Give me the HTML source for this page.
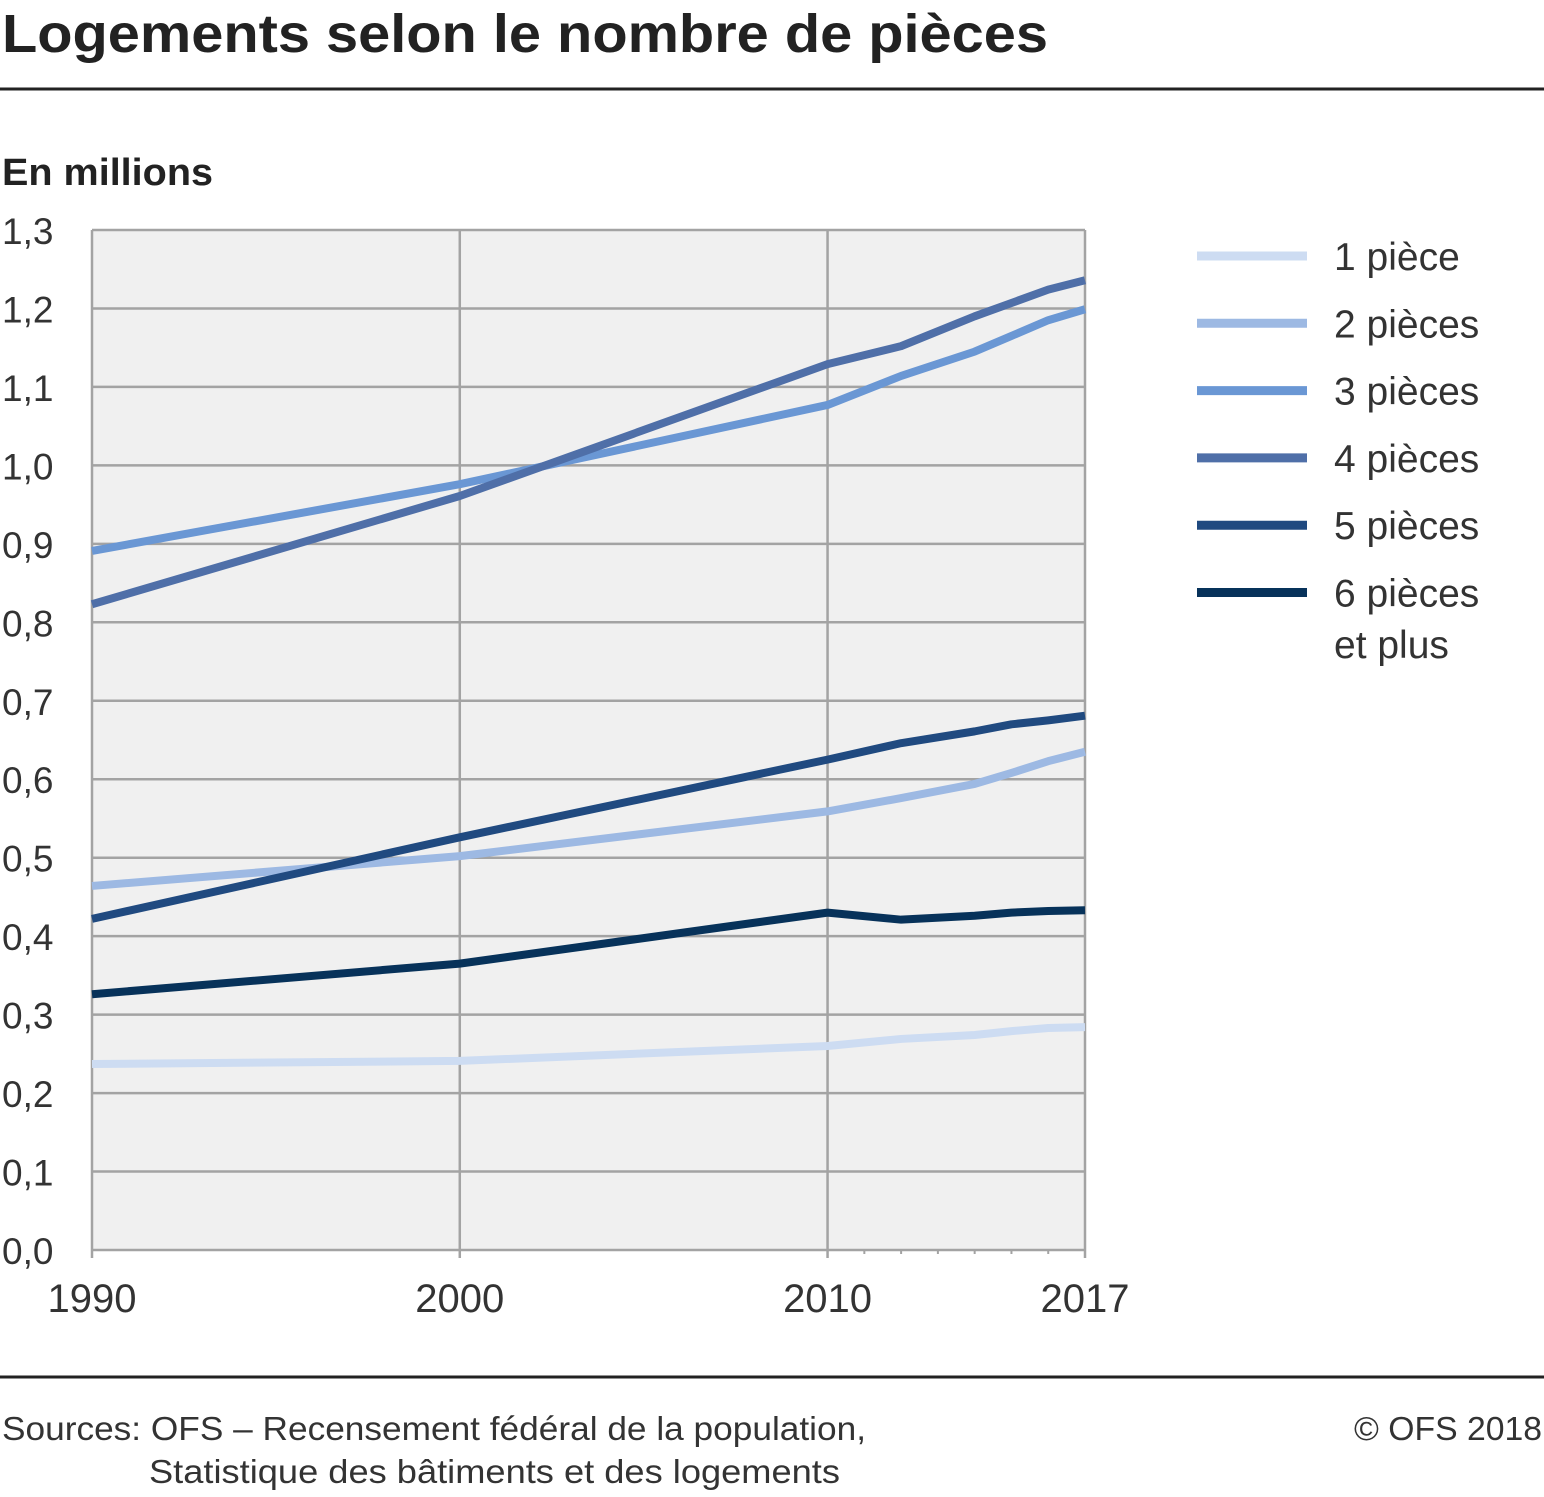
<!DOCTYPE html>
<html><head><meta charset="utf-8">
<style>
body{margin:0;background:#fff;font-family:"Liberation Sans",sans-serif;}
svg text{font-family:"Liberation Sans",sans-serif;}
</style></head>
<body>
<svg id="chart" width="1544" height="1492" xmlns="http://www.w3.org/2000/svg">
<text x="2" y="52" font-size="54" font-weight="bold" fill="#222" textLength="1046" lengthAdjust="spacingAndGlyphs">Logements selon le nombre de pièces</text>
<line x1="0" y1="89" x2="1544" y2="89" stroke="#222" stroke-width="3"/>
<text x="2" y="185" font-size="38" font-weight="bold" fill="#222" textLength="211" lengthAdjust="spacingAndGlyphs">En millions</text>
<rect x="92" y="230" width="993" height="1020" fill="#f0f0f0"/>
<g id="grid"></g>
<g id="lines"></g>
<g id="legend"></g>
<line x1="0" y1="1377" x2="1544" y2="1377" stroke="#222" stroke-width="3"/>
<text x="2" y="1440" font-size="33" fill="#333" textLength="864" lengthAdjust="spacingAndGlyphs">Sources: OFS – Recensement fédéral de la population,</text>
<text x="149" y="1483" font-size="33" fill="#333" textLength="691" lengthAdjust="spacingAndGlyphs">Statistique des bâtiments et des logements</text>
<text x="1542" y="1440" font-size="33" fill="#333" text-anchor="end" textLength="188" lengthAdjust="spacingAndGlyphs">© OFS 2018</text>
</svg>
<script>
const years=[1990,2000,2010,2012,2014,2015,2016,2017];
const s1=[0.237,0.241,0.260,0.269,0.274,0.279,0.283,0.284];
const s2=[0.464,0.502,0.559,0.576,0.594,0.608,0.623,0.635];
const s3=[0.891,0.976,1.077,1.114,1.145,1.165,1.185,1.199];
const s4=[0.823,0.961,1.129,1.152,1.190,1.207,1.224,1.236];
const s5=[0.422,0.526,0.625,0.646,0.661,0.670,0.675,0.681];
const s6=[0.326,0.365,0.430,0.421,0.426,0.430,0.432,0.433];
const seriesNames=["1 pièce","2 pièces","3 pièces","4 pièces","5 pièces","6 pièces"];
const yTicks=[0,0.1,0.2,0.3,0.4,0.5,0.6,0.7,0.8,0.9,1.0,1.1,1.2,1.3];
const xLabels=[1990,2000,2010,2017];
const minorYears=[2011,2012,2013,2014,2015,2016];
const colors=["#cddcf2","#9db9e3","#6a97d4","#4f6fa8","#204a80","#07325a"];
const NS="http://www.w3.org/2000/svg";
const X=y=>92+(y-1990)*(993/27);
const Y=v=>1250-v*(1020/1.3);
function mk(t,a,p){const e=document.createElementNS(NS,t);for(const k in a)e.setAttribute(k,a[k]);p.appendChild(e);return e;}
const grid=document.getElementById('grid');
yTicks.forEach(v=>{
 const l=mk('line',{x1:92,x2:1085,y1:Y(v),y2:Y(v),stroke:'#a3a3a3','stroke-width':2.5},grid);
 
 
 const t=mk('text',{x:2,y:Y(v)+14,'font-size':37,fill:'#333'},grid);
 t.textContent=v.toFixed(1).replace('.',',');
 
 
});
[1990,2000,2010,2017].forEach(yr=>{
 const l=mk('line',{x1:X(yr),x2:X(yr),y1:230,y2:1258,stroke:'#a3a3a3','stroke-width':2.5},grid);
 
 
});
minorYears.forEach(yr=>{
 const l=mk('line',{x1:X(yr),x2:X(yr),y1:1250,y2:1254,stroke:'#a3a3a3','stroke-width':2},grid);
 
 
});
xLabels.forEach(yr=>{
 const t=mk('text',{x:X(yr),y:1312,'font-size':40,fill:'#333','text-anchor':'middle'},grid);
 t.textContent=yr;
 
 
});
const lines=document.getElementById('lines');
[s1,s2,s3,s4,s5,s6].forEach((s,i)=>{
 const p=mk('polyline',{points:s.map((v,j)=>X(years[j])+','+Y(v)).join(' '),fill:'none',stroke:colors[i],'stroke-width':8,'stroke-linejoin':'round'},lines);
 
 
});
const lg=document.getElementById('legend');
seriesNames.forEach((n,i)=>{
 const y=256+i*67.3;
 const l=mk('line',{x1:1197,x2:1307,y1:y,y2:y,stroke:colors[i],'stroke-width':9},lg);
 
 
 const t=mk('text',{x:1334,y:y+14,'font-size':39,fill:'#333'},lg);
 t.textContent=n;
 
 
});
const t2=mk('text',{x:1334,y:658,'font-size':39,fill:'#333'},lg);
t2.textContent='et plus';


</script>
</body></html>
